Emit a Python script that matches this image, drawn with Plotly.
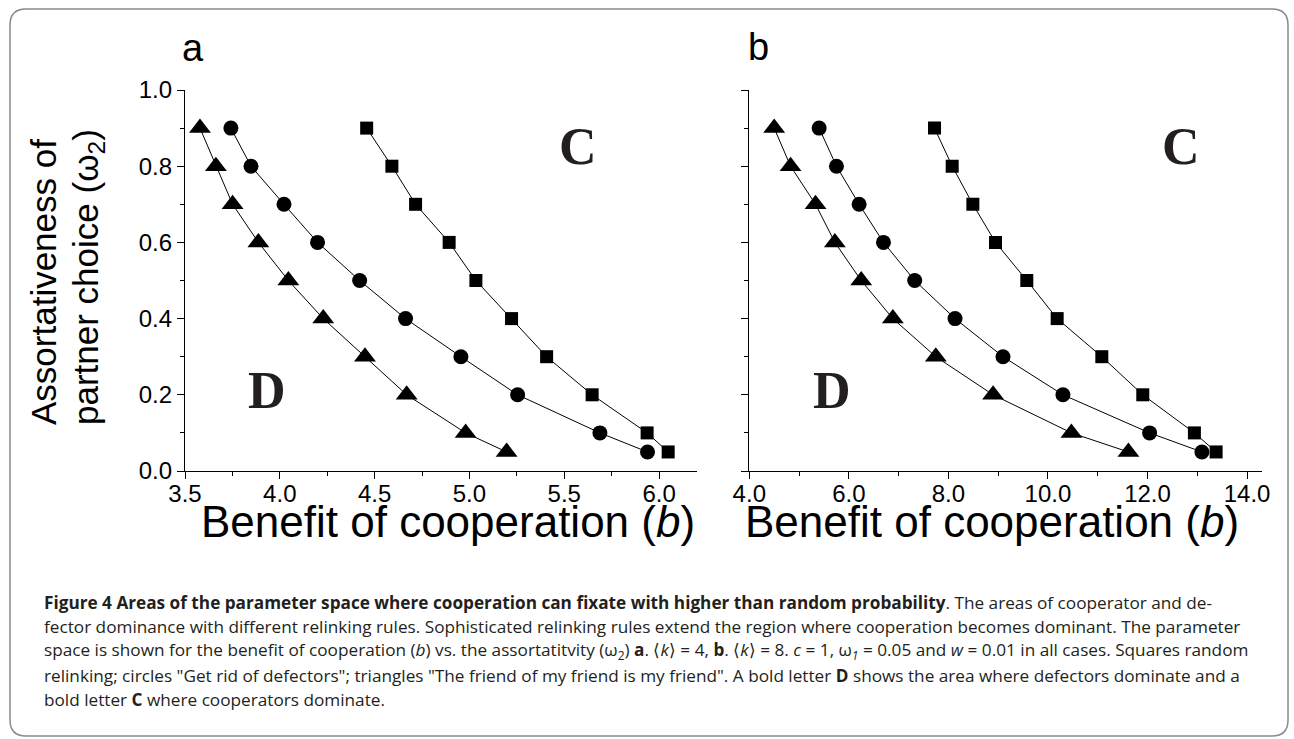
import plotly.graph_objects as go

W, H = 1294, 739

# ---------------- data ----------------
omega = [0.9, 0.8, 0.7, 0.6, 0.5, 0.4, 0.3, 0.2, 0.1, 0.05]

# panel a  (<k> = 4)
a_squares = [4.458, 4.591, 4.716, 4.893, 5.034, 5.222, 5.407, 5.647, 5.937, 6.048]
a_circles = [3.742, 3.848, 4.022, 4.199, 4.421, 4.663, 4.955, 5.254, 5.688, 5.939]
a_triangles = [3.579, 3.663, 3.751, 3.887, 4.045, 4.229, 4.449, 4.669, 4.980, 5.196]

# panel b  (<k> = 8)
b_squares = [7.721, 8.076, 8.491, 8.946, 9.575, 10.185, 11.082, 11.905, 12.942, 13.378]
b_circles = [5.403, 5.751, 6.206, 6.695, 7.323, 8.133, 9.097, 10.301, 12.042, 13.093]
b_triangles = [4.500, 4.829, 5.331, 5.719, 6.248, 6.884, 7.747, 8.898, 10.471, 11.616]

xa_tickvals = [3.5, 4.0, 4.5, 5.0, 5.5, 6.0]
xa_ticktext = ["3.5", "4.0", "4.5", "5.0", "5.5", "6.0"]
xb_tickvals = [4, 6, 8, 10, 12, 14]
xb_ticktext = ["4.0", "6.0", "8.0", "10.0", "12.0", "14.0"]
y_tickvals = [0.0, 0.2, 0.4, 0.6, 0.8, 1.0]
y_ticktext = ["0.0", "0.2", "0.4", "0.6", "0.8", "1.0"]

caption_lines = [
    "<b>Figure 4 Areas of the parameter space where cooperation can fixate with higher than random probability</b>. The areas of cooperator and de-",
    "fector dominance with different relinking rules. Sophisticated relinking rules extend the region where cooperation becomes dominant. The parameter",
    "space is shown for the benefit of cooperation (<i>b</i>) vs. the assortatitvity (ω<sub>2</sub>) <b>a</b>. ⟨<i>k</i>⟩ = 4, <b>b</b>. ⟨<i>k</i>⟩ = 8. <i>c</i> = 1, ω<sub><i>1</i></sub> = 0.05 and <i>w</i> = 0.01 in all cases. Squares random",
    "relinking; circles \"Get rid of defectors\"; triangles \"The friend of my friend is my friend\". A bold letter <b>D</b> shows the area where defectors dominate and a",
    "bold letter <b>C</b> where cooperators dominate.",
]

# ---------------- helpers ----------------
def px_x(p):
    return p / W

def px_y(p):
    return 1 - p / H

fig = go.Figure()

sym = [("square", 13), ("circle", 15), ("triangle-up", 19)]
for series, (s, sz) in zip([a_squares, a_circles, a_triangles], sym):
    fig.add_trace(go.Scatter(x=series, y=omega, mode="lines+markers",
                             line=dict(color="black", width=1),
                             marker=dict(symbol=s, size=sz, color="black"),
                             xaxis="x", yaxis="y", showlegend=False))
for series, (s, sz) in zip([b_squares, b_circles, b_triangles], sym):
    fig.add_trace(go.Scatter(x=series, y=omega, mode="lines+markers",
                             line=dict(color="black", width=1),
                             marker=dict(symbol=s, size=sz, color="black"),
                             xaxis="x2", yaxis="y2", showlegend=False))

tickfont = dict(family="Liberation Sans, Arial, sans-serif", size=24, color="black")
common = dict(showline=True, linecolor="black", linewidth=1.3, ticks="outside",
              ticklen=7, tickwidth=1.3, tickcolor="black", showgrid=False,
              zeroline=False, fixedrange=True, tickfont=tickfont, automargin=False)

ydom = [px_y(471), px_y(90)]
fig.update_layout(
    width=W, height=H, autosize=False,
    margin=dict(l=0, r=0, t=0, b=0, pad=0, autoexpand=False),
    paper_bgcolor="white", plot_bgcolor="white",
    xaxis=dict(domain=[px_x(185), px_x(697)], range=[3.5, 6.2], anchor="y",
               tickmode="array", tickvals=xa_tickvals, ticktext=xa_ticktext,
               minor=dict(tickmode="linear", tick0=3.5, dtick=0.25, ticks="outside",
                          ticklen=4, tickwidth=1.3, tickcolor="black"),
               **common),
    yaxis=dict(domain=ydom, range=[0, 1.0], anchor="x",
               tickmode="array", tickvals=y_tickvals, ticktext=y_ticktext,
               minor=dict(tickmode="linear", tick0=0, dtick=0.1, ticks="outside",
                          ticklen=4, tickwidth=1.3, tickcolor="black"),
               **common),
    xaxis2=dict(domain=[px_x(749.3), px_x(1262)], range=[4, 14.3], anchor="y2",
                tickmode="array", tickvals=xb_tickvals, ticktext=xb_ticktext,
                minor=dict(tickmode="linear", tick0=4, dtick=1, ticks="outside",
                           ticklen=4, tickwidth=1.3, tickcolor="black"),
                **common),
    yaxis2=dict(domain=ydom, range=[0, 1.0], anchor="x2",
                tickmode="array", tickvals=y_tickvals, showticklabels=False,
                minor=dict(tickmode="linear", tick0=0, dtick=0.1, ticks="outside",
                           ticklen=4, tickwidth=1.3, tickcolor="black"),
                **common),
)
# pull the x tick labels slightly closer to the axis, as in the reference
try:
    fig.update_layout(xaxis_ticklabelstandoff=-6, xaxis2_ticklabelstandoff=-6)
except Exception:
    pass

ann = []
serif = dict(family="Liberation Serif, Times New Roman, serif", size=52, color="#231f20")
for xr, yr, cx, dx in [("x", "y", 5.573, 3.93), ("x2", "y2", 12.68, 5.67)]:
    ann.append(dict(x=cx, y=0.853, xref=xr, yref=yr, text="<b>C</b>", showarrow=False,
                    font=serif, xanchor="center", yanchor="middle"))
    ann.append(dict(x=dx, y=0.21, xref=xr, yref=yr, text="<b>D</b>", showarrow=False,
                    font=serif, xanchor="center", yanchor="middle"))

sans = "Liberation Sans, Arial, sans-serif"
# panel letters
ann.append(dict(x=px_x(193), y=px_y(48), xref="paper", yref="paper", text="a", showarrow=False,
                font=dict(family=sans, size=38, color="black"), xanchor="center", yanchor="middle"))
ann.append(dict(x=px_x(758), y=px_y(47), xref="paper", yref="paper", text="b", showarrow=False,
                font=dict(family=sans, size=38, color="black"), xanchor="center", yanchor="middle"))
# x titles
for cx in [448, 992]:
    ann.append(dict(x=px_x(cx), y=px_y(521), xref="paper", yref="paper",
                    text="Benefit of cooperation (<i>b</i>)", showarrow=False,
                    font=dict(family=sans, size=44, color="black"),
                    xanchor="center", yanchor="middle"))
# y title
ann.append(dict(x=px_x(43), y=px_y(282), xref="paper", yref="paper", text="Assortativeness of",
                showarrow=False, textangle=-90, font=dict(family=sans, size=35, color="black"),
                xanchor="center", yanchor="middle"))
ann.append(dict(x=px_x(88), y=px_y(277), xref="paper", yref="paper",
                text="partner choice (ω<sub>2</sub>)",
                showarrow=False, textangle=-90, font=dict(family=sans, size=35, color="black"),
                xanchor="center", yanchor="middle"))
# caption
cap_y = [602, 626, 651, 675, 699]
for t, yy in zip(caption_lines, cap_y):
    ann.append(dict(x=px_x(42), y=px_y(yy), xref="paper", yref="paper", text=t,
                    showarrow=False, align="left", xanchor="left", yanchor="middle",
                    font=dict(family="Open Sans, Noto Sans, sans-serif", size=17.2, color="#231f20")))
fig.update_layout(annotations=ann)

# rounded frame
x0, x1 = px_x(10), px_x(1288)
y0, y1 = px_y(736), px_y(9)
rx, ry = 16 / W, 16 / H
path = (f"M {x0+rx},{y1} L {x1-rx},{y1} Q {x1},{y1} {x1},{y1-ry} "
        f"L {x1},{y0+ry} Q {x1},{y0} {x1-rx},{y0} L {x0+rx},{y0} "
        f"Q {x0},{y0} {x0},{y0+ry} L {x0},{y1-ry} Q {x0},{y1} {x0+rx},{y1} Z")
fig.add_shape(type="path", path=path, xref="paper", yref="paper",
              line=dict(color="#8a8a8a", width=1.5), fillcolor="rgba(0,0,0,0)", layer="below")

fig.write_html("out.html", config={"displayModeBar": False},
               post_script="document.body.style.margin='0';")
